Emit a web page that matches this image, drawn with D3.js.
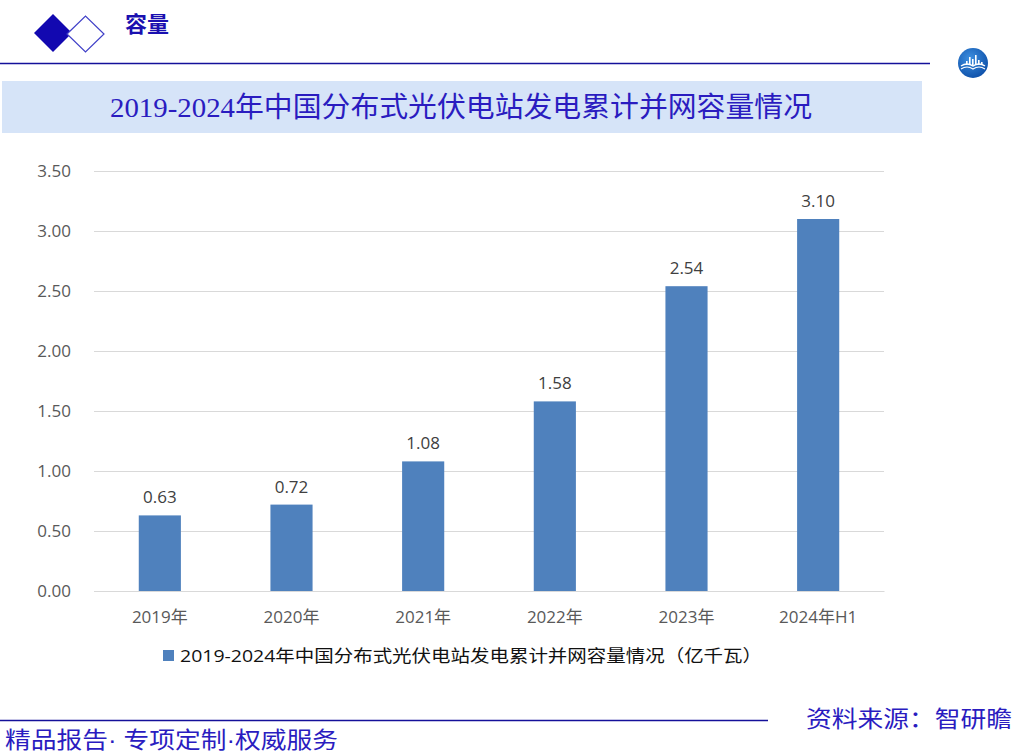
<!DOCTYPE html>
<html><head><meta charset="utf-8">
<script src="https://cdn.jsdelivr.net/npm/d3@7"></script>
<style>body{margin:0;background:#fff;}svg{display:block;}</style>
</head><body>
<script>
const categories = ["2019年","2020年","2021年","2022年","2023年","2024年H1"];
const values = [0.63,0.72,1.08,1.58,2.54,3.10];
const valueLabels = ["0.63","0.72","1.08","1.58","2.54","3.10"];
const yTicks = [0,0.5,1,1.5,2,2.5,3,3.5];
const seriesName = "2019-2024年中国分布式光伏电站发电累计并网容量情况（亿千瓦）";
const chartTitle = "2019-2024年中国分布式光伏电站发电累计并网容量情况";
const footerParts = ["精品报告","· ","专项定制","·","权威服务"];

const W=1015,H=756;
const svg=d3.select("body").append("svg").attr("width",W).attr("height",H);
const cjk="'Noto Sans CJK SC','Noto Sans',sans-serif";

// header diamonds
svg.append("path").attr("d","M34,33 L53,14 L72,33 L53,52 Z").attr("fill","#1208b0");
svg.append("path").attr("d","M67,34 L85.5,16 L104,34 L85.5,52 Z").attr("fill","#fff").attr("stroke","#4040c8").attr("stroke-width",1.2);
svg.append("text").attr("x",125).attr("y",32).attr("font-family",cjk).attr("font-size",22).attr("font-weight","bold").attr("fill","#1a10b0").text("容量");
svg.append("line").attr("x1",0).attr("x2",930).attr("y1",63.5).attr("y2",63.5).attr("stroke","#14109a").attr("stroke-width",1.3);

// logo
const defs=svg.append("defs");
const rg=defs.append("radialGradient").attr("id","lg").attr("cx","40%").attr("cy","35%").attr("r","70%");
rg.append("stop").attr("offset","0%").attr("stop-color","#3d8fe0");
rg.append("stop").attr("offset","100%").attr("stop-color","#0d4fa8");
const lg=svg.append("g").attr("transform","translate(973,63)");
lg.append("circle").attr("r",15).attr("fill","url(#lg)");
lg.append("path").attr("d","M-12,3 Q-6,-1 0,3 Q6,-1 12,3").attr("fill","none").attr("stroke","#fff").attr("stroke-width",1.5);
lg.append("path").attr("d","M-12,6 Q-6,2 0,6 Q6,2 12,6").attr("fill","none").attr("stroke","#fff").attr("stroke-width",1.2);
[[-7,-2,4],[-4,-6,8],[-1,-4,6],[2,-8,10],[5,-3,5],[8,-1,3]].forEach(d=>{
  lg.append("rect").attr("x",d[0]).attr("y",d[1]).attr("width",1.6).attr("height",d[2]).attr("fill","#fff");
});

// title band
svg.append("rect").attr("x",2).attr("y",81).attr("width",920).attr("height",52).attr("fill","#d6e4f8");
svg.append("text").attr("x",110).attr("y",117).attr("font-family","'Liberation Serif','Noto Sans CJK SC',serif")
  .attr("font-size",28).attr("fill","#2a1cc0").attr("textLength",702).attr("lengthAdjust","spacingAndGlyphs").text(chartTitle);

// chart
const x0=94,x1=884,yb=591,yt=171;
const x=d3.scaleBand().domain(categories).range([x0,x1]).padding(0);
const y=d3.scaleLinear().domain([0,3.5]).range([yb,yt]);
const g=svg.append("g");
const yAxis=d3.axisLeft(y).tickValues(yTicks).tickSize(-(x1-x0)).tickFormat(d3.format(".2f"));
const ya=g.append("g").attr("transform",`translate(${x0},0)`).call(yAxis);
ya.select(".domain").remove();
ya.selectAll(".tick line").attr("stroke","#d9d9d9").attr("stroke-width",1);
ya.selectAll(".tick text").attr("x",-23).attr("font-family","'Open Sans','DejaVu Sans',sans-serif").attr("font-size",17).attr("fill","#595959");

const bw=x.bandwidth()*0.32;
g.selectAll(".bar").data(values).join("rect")
  .attr("x",(d,i)=>x(categories[i])+x.bandwidth()/2-bw/2)
  .attr("y",d=>y(d)).attr("width",bw).attr("height",d=>yb-y(d)).attr("fill","#4f81bd");
g.selectAll(".vl").data(values).join("text")
  .attr("x",(d,i)=>x(categories[i])+x.bandwidth()/2).attr("y",d=>y(d)-12)
  .attr("text-anchor","middle").attr("font-family","'Open Sans','DejaVu Sans',sans-serif").attr("font-size",17).attr("fill","#404040")
  .text((d,i)=>valueLabels[i]);

const xAxis=d3.axisBottom(x).tickSize(0);
const xa=g.append("g").attr("transform",`translate(0,${yb})`).call(xAxis);
xa.select(".domain").attr("stroke","#d9d9d9");
xa.selectAll(".tick text").attr("dy",0).attr("y",32).attr("font-family","'Open Sans','Noto Sans CJK SC',sans-serif").attr("font-size",17).attr("fill","#595959");

// legend
svg.append("rect").attr("x",163).attr("y",650).attr("width",11).attr("height",11).attr("fill","#4f81bd");
svg.append("text").attr("x",180).attr("y",662).attr("font-family","'Open Sans','Noto Sans CJK SC',sans-serif").attr("font-size",17).attr("fill","#111")
  .attr("textLength",582).attr("lengthAdjust","spacingAndGlyphs").text(seriesName);

// footer
svg.append("line").attr("x1",0).attr("x2",768).attr("y1",720.5).attr("y2",720.5).attr("stroke","#14109a").attr("stroke-width",1.3);
const ft=svg.append("text").attr("x",5).attr("y",748).attr("font-family",cjk).attr("font-size",23).attr("fill","#2a1cc0")
  .attr("textLength",333).attr("lengthAdjust","spacingAndGlyphs");
footerParts.forEach(p=>{
  const t=ft.append("tspan").text(p);
  if(p.indexOf("·")>=0) t.attr("font-family","'Liberation Sans',sans-serif");
});
svg.append("text").attr("x",806).attr("y",727).attr("font-family",cjk).attr("font-size",23).attr("fill","#2a1cc0")
  .attr("textLength",206).attr("lengthAdjust","spacingAndGlyphs").text("资料来源：智研瞻");
</script>
</body></html>
